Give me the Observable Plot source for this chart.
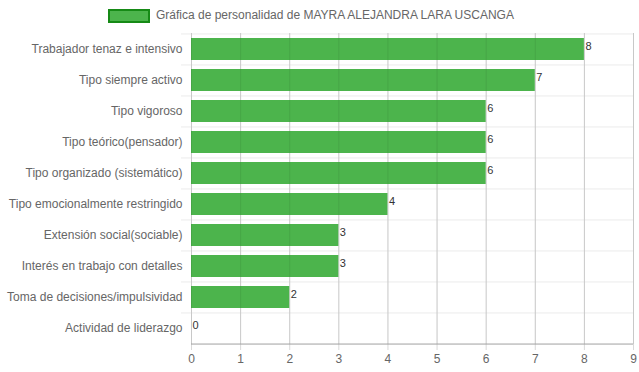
<!DOCTYPE html>
<html><head><meta charset="utf-8">
<script src="https://cdn.jsdelivr.net/npm/d3@7"></script>
<script src="https://cdn.jsdelivr.net/npm/@observablehq/plot@0.6"></script>
<style>
body{margin:0;background:#fff;font-family:"Liberation Sans",Arial,sans-serif;}
#wrap{position:relative;width:639px;height:372px;}
#legend{position:relative;height:28px;}
#lbox{position:absolute;left:108px;top:9px;width:38px;height:10px;background:rgb(76,180,76);border:2px solid #168a16;}
#ltext{position:absolute;left:156px;top:7px;font-size:12px;color:#666;line-height:16px;white-space:nowrap;}
</style></head>
<body><div id="wrap"><div id="legend"><div id="lbox"></div><div id="ltext">Gráfica de personalidad de MAYRA ALEJANDRA LARA USCANGA</div></div><div id="chart"></div></div>
<script>
const categories = ["Trabajador tenaz e intensivo","Tipo siempre activo","Tipo vigoroso","Tipo teórico(pensador)","Tipo organizado (sistemático)","Tipo emocionalmente restringido","Extensión social(sociable)","Interés en trabajo con detalles","Toma de decisiones/impulsividad","Actividad de liderazgo"];
const values = [8,7,6,6,6,4,3,3,2,0];
const xTicks = [0,1,2,3,4,5,6,7,8,9];
const data = categories.map((c,i)=>({cat:c, value:values[i]}));
const half = 311/10/2;
const chart = Plot.plot({
  width:639, height:344, marginTop:5, marginBottom:28, marginLeft:191, marginRight:6,
  style:{fontFamily:"Liberation Sans, Arial, sans-serif", fontSize:"12px", color:"#666", background:"#fff"},
  x:{domain:[0,9], label:null},
  y:{domain:categories, paddingInner:0.28, paddingOuter:0.14, label:null},
  marks:[
    Plot.ruleY(categories, {y:d=>d, dy:-half, insetLeft:-10, stroke:"#ebebeb"}),
    Plot.ruleX(xTicks, {x:d=>d, insetBottom:-6, stroke:"#d9d9d9"}),
    Plot.barX(data, {x:"value", y:"cat", fill:"rgb(76,180,76)"}),
    Plot.ruleX(xTicks, {x:d=>d, stroke:"rgba(0,0,0,0.08)"}),
    Plot.ruleY([categories[categories.length-1]], {dy:half, stroke:"#a0a0a0"}),
    Plot.text(data, {x:"value", y:"cat", text:d=>String(d.value), textAnchor:"start", dx:1, dy:-3, fontSize:11, fill:"#333"}),
    Plot.axisX({ticks:xTicks, tickSize:0, tickPadding:10, tickFormat:d=>String(d), fill:"#666", label:null}),
    Plot.axisY({tickSize:0, tickPadding:9, fill:"#666", label:null})
  ]
});
document.getElementById("chart").appendChild(chart);
</script></body></html>
